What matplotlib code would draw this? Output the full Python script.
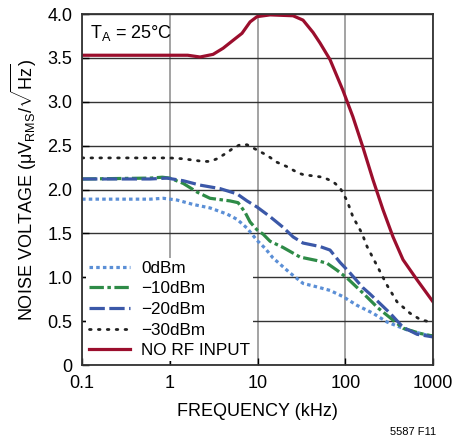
import matplotlib
matplotlib.use("Agg")
import matplotlib.pyplot as plt

plt.rcParams['font.family'] = ['Liberation Sans', 'DejaVu Sans']
plt.rcParams['mathtext.fontset'] = 'custom'
plt.rcParams['mathtext.rm'] = 'Liberation Sans'
plt.rcParams['mathtext.it'] = 'Liberation Sans'

# frequency (kHz) / noise voltage (uVrms/rtHz)
f_0dbm = [0.1, 0.6, 0.84, 1.21, 1.84, 2.87, 4.49, 5.84, 7.59, 9.87, 12.2, 15.0, 23.4, 33, 47.6,
          67, 94, 136, 207, 299, 506, 855, 1000]
v_0dbm = [1.89, 1.89, 1.90, 1.88, 1.83, 1.79, 1.72, 1.66, 1.56, 1.42, 1.33, 1.22, 1.05, 0.93, 0.89,
          0.85, 0.78, 0.68, 0.59, 0.49, 0.40, 0.34, 0.33]

f_10dbm = [0.1, 0.6, 0.82, 1.0, 1.42, 2.05, 2.87, 4.86, 6.0, 7.21, 8.22, 9.87, 11.6, 13.9, 19.5,
           30.5, 47.6, 61.9, 80.5, 105, 159, 236, 455, 711, 1000]
v_10dbm = [2.12, 2.13, 2.14, 2.13, 2.07, 1.97, 1.90, 1.87, 1.85, 1.74, 1.63, 1.54, 1.49, 1.41, 1.34,
           1.23, 1.19, 1.16, 1.08, 0.99, 0.82, 0.65, 0.42, 0.36, 0.33]

f_20dbm = [0.1, 0.6, 0.93, 1.42, 2.21, 3.74, 5.84, 7.59, 9.87, 13.9, 19.5, 25.4, 33, 51.5, 67,
           87, 113, 159, 191, 249, 324, 455, 658, 1000]
v_20dbm = [2.12, 2.12, 2.13, 2.10, 2.05, 2.01, 1.95, 1.87, 1.80, 1.69, 1.57, 1.46, 1.39, 1.35, 1.31,
           1.17, 1.05, 0.88, 0.81, 0.70, 0.59, 0.43, 0.35, 0.32]

f_30dbm = [0.1, 0.6, 1.0, 1.42, 2.40, 2.87, 3.45, 4.49, 5.26, 6.31, 7.59, 9.87, 12.8, 16.7, 21.7,
           28.9, 33, 55.7, 72.4, 87, 105, 122, 155, 177, 236, 299, 389, 547, 711, 1000]
v_30dbm = [2.36, 2.36, 2.36, 2.35, 2.32, 2.32, 2.35, 2.42, 2.47, 2.51, 2.51, 2.45, 2.39, 2.31, 2.26,
           2.19, 2.17, 2.14, 2.09, 2.02, 1.87, 1.69, 1.50, 1.35, 1.11, 0.91, 0.72, 0.59, 0.52, 0.48]

f_norf = [0.1, 0.6, 1.0, 1.6, 2.21, 3.11, 4.05, 5.26, 6.65, 8.22, 9.87, 13.9, 25.4, 33, 42.9,
          51.5, 67, 94, 122, 159, 207, 269, 350, 455, 658, 1000]
v_norf = [3.53, 3.53, 3.53, 3.53, 3.51, 3.54, 3.61, 3.70, 3.78, 3.91, 3.97, 3.99, 3.98, 3.93, 3.79,
          3.67, 3.48, 3.13, 2.83, 2.48, 2.11, 1.77, 1.46, 1.20, 0.97, 0.72]

labels = ['0dBm', '\u221210dBm', '\u221220dBm', '\u221230dBm', 'NO RF INPUT']

fig = plt.figure(figsize=(4.56, 4.46), dpi=100)
ax = fig.add_axes([0.180, 0.1816, 0.7696, 0.787])

ax.plot(f_0dbm, v_0dbm, color='#5b8fd6', lw=2.3, ls=(0, (1.1, 1.0)), label=labels[0])
ax.plot(f_10dbm, v_10dbm, color='#2e8b47', lw=2.3, ls=(0, (4.5, 1.1, 1.1, 1.1)), label=labels[1])
ax.plot(f_20dbm, v_20dbm, color='#3b58a8', lw=2.3, ls=(0, (4.8, 1.4)), label=labels[2])
ax.plot(f_30dbm, v_30dbm, color='#222222', lw=2.0, ls=(0, (0.6, 2.6)), dash_capstyle='round',
        label=labels[3])
ax.plot(f_norf, v_norf, color='#9b0e2d', lw=2.3, label=labels[4])

ax.set_xscale('log')
ax.set_xlim(0.1, 1000)
ax.set_ylim(0, 4.0)
ax.set_xticks([0.1, 1, 10, 100, 1000])
ax.set_xticklabels(['0.1', '1', '10', '100', '1000'])
ax.set_yticks([0, 0.5, 1.0, 1.5, 2.0, 2.5, 3.0, 3.5, 4.0])
ax.set_yticklabels(['0', '0.5', '1.0', '1.5', '2.0', '2.5', '3.0', '3.5', '4.0'])
ax.minorticks_off()
ax.tick_params(direction='in', length=5, width=1, labelsize=13, pad=7)
ax.xaxis.grid(True, color='#8a8a8a', lw=1.1)
ax.yaxis.grid(True, color='#333333', lw=1.0)
ax.set_axisbelow(True)
for s in ax.spines.values():
    s.set_linewidth(1.3)
    s.set_color('#333333')

ax.set_xlabel('FREQUENCY (kHz)', fontsize=13, labelpad=8)
ax.set_ylabel(r'NOISE VOLTAGE ($\mathregular{\mu V_{RMS}/\sqrt{Hz}}$)', fontsize=13, labelpad=6)

ax.text(0.022, 0.945, r'T$_\mathregular{A}$ = 25°C', transform=ax.transAxes, fontsize=13,
        ha='left', va='center')

leg = ax.legend(loc='lower left', bbox_to_anchor=(0.0, 0.0), fontsize=12.3, frameon=True,
                fancybox=False, edgecolor='none', framealpha=1, facecolor='white',
                handlelength=2.4, handletextpad=0.65, labelspacing=0.33, borderpad=0.15,
                borderaxespad=0.25)

fig.text(0.855, 0.02, '5587 F11', fontsize=8, ha='left', va='bottom')

fig.savefig('out.png', dpi=100)
